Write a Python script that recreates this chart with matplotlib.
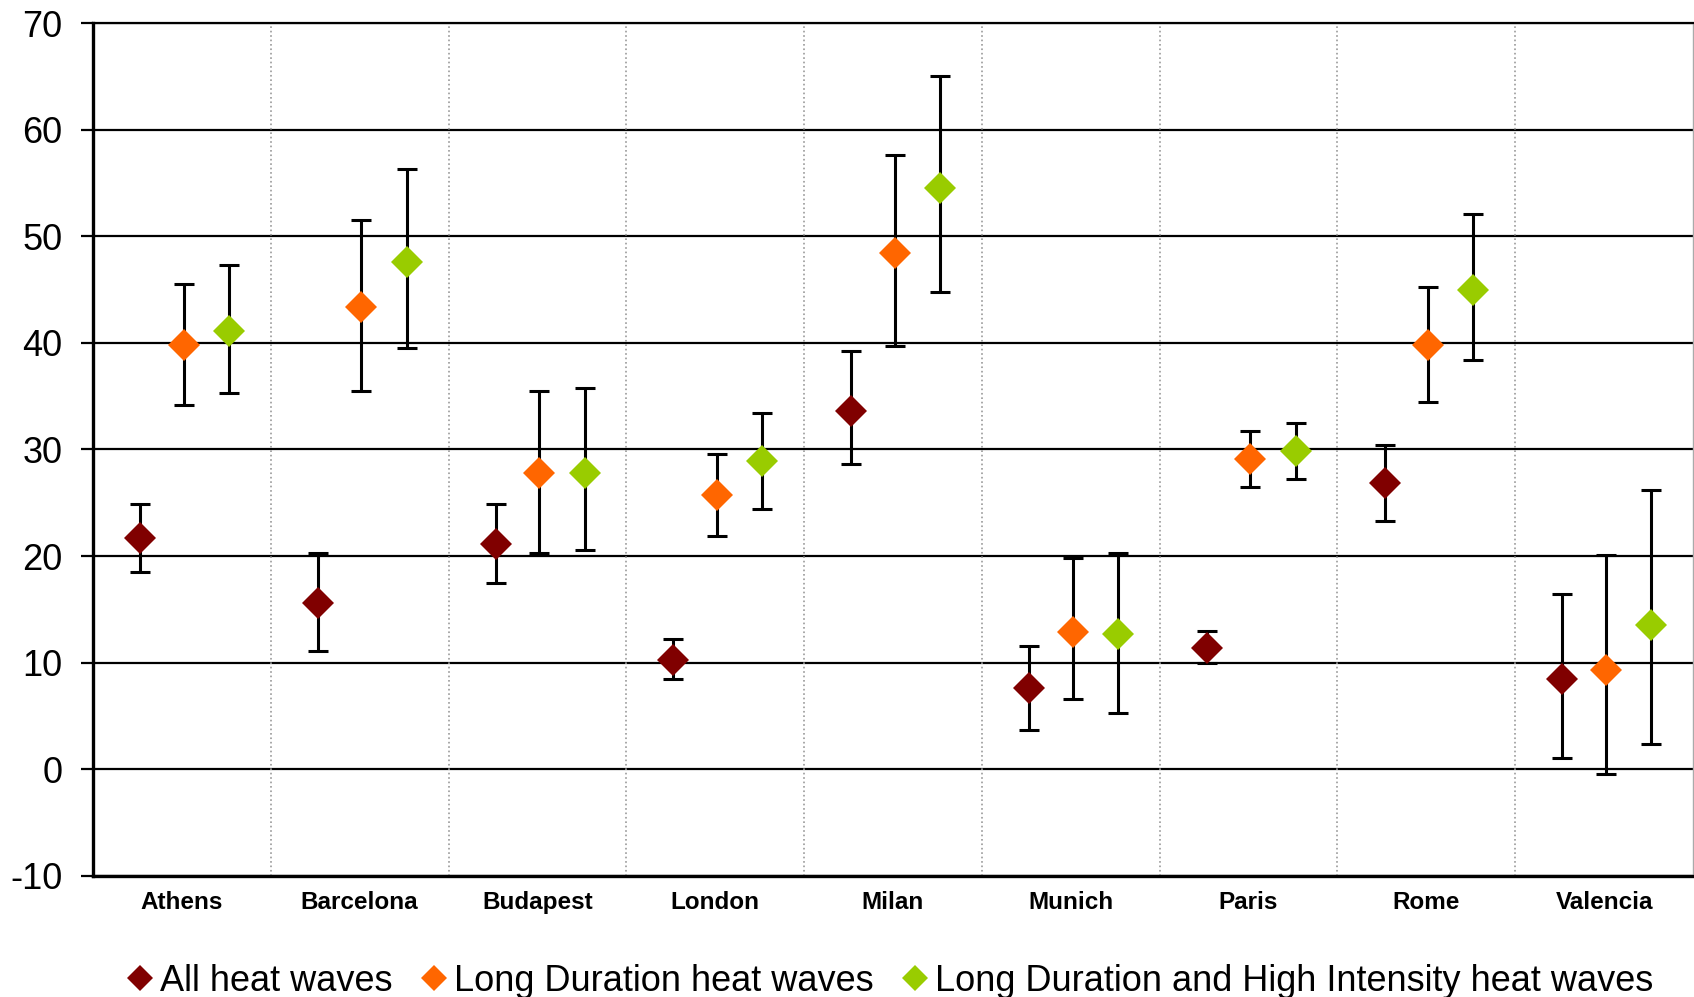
import matplotlib
matplotlib.use("Agg")
import matplotlib.pyplot as plt
from matplotlib.lines import Line2D
import numpy as np

plt.rcParams['font.family'] = ['Liberation Sans', 'DejaVu Sans']
plt.rcParams['axes.unicode_minus'] = False

# Data
cities = ['Athens', 'Barcelona', 'Budapest', 'London', 'Milan',
          'Munich', 'Paris', 'Rome', 'Valencia']

all_mean = [21.7, 15.6, 21.1, 10.3, 33.6, 7.6, 11.4, 26.9, 8.5]
all_high = [24.9, 20.3, 24.9, 12.2, 39.2, 11.6, 13.0, 30.4, 16.4]
all_low = [18.5, 11.1, 17.5, 8.5, 28.6, 3.7, 10.0, 23.3, 1.1]

long_mean = [39.8, 43.4, 27.8, 25.7, 48.4, 12.9, 29.1, 39.8, 9.3]
long_high = [45.5, 51.5, 35.5, 29.6, 57.6, 19.8, 31.7, 45.2, 20.1]
long_low = [34.2, 35.5, 20.3, 21.9, 39.7, 6.6, 26.5, 34.5, -0.4]

ldhi_mean = [41.1, 47.6, 27.8, 28.9, 54.5, 12.7, 29.9, 45.0, 13.5]
ldhi_high = [47.3, 56.3, 35.8, 33.4, 65.0, 20.3, 32.5, 52.1, 26.2]
ldhi_low = [35.3, 39.5, 20.6, 24.4, 44.8, 5.3, 27.2, 38.4, 2.4]

series_labels = ['All heat waves', 'Long Duration heat waves',
                 'Long Duration and High Intensity heat waves']
series_colors = ['#800000', '#FF6600', '#99CC00']
offsets = [-0.235, 0.01, 0.265]

fig = plt.figure(figsize=(16.94, 9.97), dpi=100)
ax = fig.add_axes([0.0549, 0.1214, 0.9445, 0.8555])

x = np.arange(len(cities)) + 0.5
series = [(all_mean, all_low, all_high),
          (long_mean, long_low, long_high),
          (ldhi_mean, ldhi_low, ldhi_high)]

for (mean, low, high), off, col in zip(series, offsets, series_colors):
    mean = np.array(mean)
    yerr = [mean - np.array(low), np.array(high) - mean]
    ax.errorbar(x + off, mean, yerr=yerr, fmt='none', ecolor='black',
                elinewidth=2.2, capsize=7, capthick=2.2, zorder=3)
    ax.plot(x + off, mean, linestyle='none', marker='D', markersize=16.5,
            color=col, markeredgewidth=0, zorder=4)

# separators between cities
ax.vlines(np.arange(1, len(cities)), -10, 70, colors='#999999',
          linestyles=':', linewidth=1.2, zorder=1)

ax.set_xlim(0, len(cities))
ax.set_ylim(-10, 70)
ax.set_yticks(np.arange(-10, 71, 10))
ax.yaxis.grid(True, color='black', linewidth=1.6, zorder=2)
ax.set_axisbelow(True)
ax.set_xticks(x)
ax.set_xticklabels(cities, fontsize=17.5, fontweight='bold')
ax.tick_params(axis='x', length=0, pad=11)
ax.tick_params(axis='y', labelsize=26, length=9, width=1.6, pad=13)

for s in ['left', 'bottom']:
    ax.spines[s].set_linewidth(2.4)
ax.spines['top'].set_linewidth(1.6)
ax.spines['right'].set_color('#aaaaaa')
ax.spines['right'].set_linewidth(1.0)

handles = [Line2D([], [], linestyle='none', marker='D', markersize=13,
                  color=c, markeredgewidth=0) for c in series_colors]
fig.legend(handles, series_labels, loc='center', ncol=3,
           bbox_to_anchor=(0.5257, 0.0158), frameon=False, fontsize=26,
           handlelength=0.7, handletextpad=0.2, columnspacing=0.8,
           borderpad=0, borderaxespad=0)

fig.savefig('out.png', dpi=100)
